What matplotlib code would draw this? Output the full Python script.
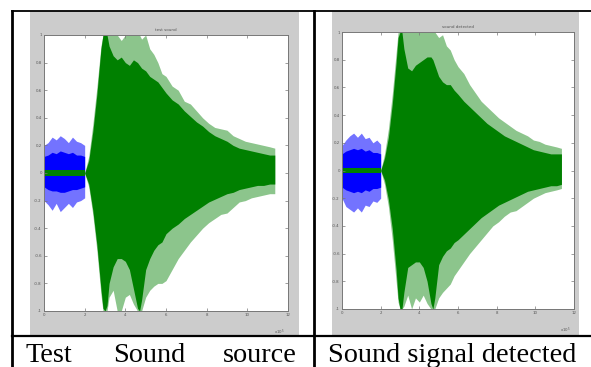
import numpy as np
import matplotlib.pyplot as plt
from matplotlib.lines import Line2D
from matplotlib.patches import Rectangle

# envelope of the two recordings (x in units of 1e5 samples)
t_green = [2.0, 2.2, 2.4, 2.6, 2.8, 2.9, 3.0, 3.1, 3.2, 3.4, 3.6, 3.8, 4.0, 4.2,
           4.4, 4.6, 4.7, 4.8, 5.0, 5.2, 5.4, 5.6, 5.8, 6.0, 6.3, 6.6, 6.9, 7.2,
           7.5, 7.8, 8.1, 8.4, 8.7, 9.0, 9.3, 9.6, 9.9, 10.2, 10.5, 10.8, 11.1, 11.35]

test_hi_out = [0.0, 0.12, 0.35, 0.62, 0.92, 1.0, 1.0, 1.0, 1.0, 1.0, 1.0, 0.96, 1.0, 1.0,
               1.0, 1.0, 1.0, 0.97, 1.0, 0.9, 0.86, 0.8, 0.72, 0.7, 0.63, 0.6, 0.52, 0.5,
               0.45, 0.4, 0.36, 0.33, 0.32, 0.31, 0.27, 0.25, 0.23, 0.22, 0.21, 0.2, 0.19, 0.18]
test_hi_in = [0.0, 0.09, 0.3, 0.57, 0.9, 1.0, 1.0, 1.0, 0.92, 0.85, 0.82, 0.84, 0.8, 0.78,
              0.82, 0.8, 0.78, 0.76, 0.74, 0.7, 0.68, 0.66, 0.62, 0.58, 0.53, 0.5, 0.45, 0.41,
              0.37, 0.34, 0.3, 0.27, 0.25, 0.23, 0.2, 0.18, 0.17, 0.16, 0.15, 0.14, 0.13, 0.13]
test_lo_in = [0.0, -0.08, -0.27, -0.52, -0.84, -0.98, -1.0, -0.96, -0.8, -0.68, -0.62, -0.62, -0.64, -0.7,
              -0.84, -0.98, -1.0, -0.92, -0.7, -0.62, -0.56, -0.52, -0.5, -0.44, -0.4, -0.37, -0.33, -0.3,
              -0.27, -0.24, -0.21, -0.19, -0.17, -0.15, -0.14, -0.12, -0.11, -0.1, -0.09, -0.09, -0.08, -0.08]
test_lo_out = [0.0, -0.1, -0.3, -0.56, -0.88, -1.0, -1.0, -1.0, -0.9, -0.85, -1.0, -1.0, -0.9, -0.88,
               -0.95, -1.0, -1.0, -1.0, -0.9, -0.85, -0.82, -0.8, -0.8, -0.78, -0.7, -0.62, -0.56, -0.5,
               -0.45, -0.4, -0.36, -0.33, -0.3, -0.29, -0.25, -0.21, -0.2, -0.18, -0.17, -0.16, -0.15, -0.15]

det_hi_out = [0.0, 0.12, 0.3, 0.55, 0.85, 1.0, 1.0, 1.0, 1.0, 1.0, 1.0, 1.0, 1.0, 1.0,
              1.0, 1.0, 1.0, 1.0, 0.96, 0.98, 0.9, 0.87, 0.8, 0.75, 0.7, 0.62, 0.56, 0.5,
              0.46, 0.42, 0.38, 0.35, 0.32, 0.29, 0.27, 0.25, 0.22, 0.21, 0.19, 0.18, 0.17, 0.16]
det_hi_in = [0.0, 0.09, 0.24, 0.48, 0.78, 0.96, 1.0, 1.0, 0.88, 0.74, 0.72, 0.76, 0.78, 0.8,
             0.82, 0.82, 0.8, 0.76, 0.68, 0.64, 0.62, 0.62, 0.58, 0.55, 0.5, 0.46, 0.42, 0.38,
             0.34, 0.31, 0.28, 0.25, 0.23, 0.21, 0.19, 0.17, 0.15, 0.14, 0.13, 0.12, 0.12, 0.12]
det_lo_in = [0.0, -0.07, -0.21, -0.42, -0.72, -0.92, -1.0, -1.0, -0.88, -0.7, -0.68, -0.66, -0.66, -0.7,
             -0.8, -0.96, -1.0, -0.92, -0.68, -0.62, -0.58, -0.56, -0.52, -0.5, -0.46, -0.42, -0.38, -0.34,
             -0.31, -0.28, -0.25, -0.23, -0.21, -0.19, -0.17, -0.15, -0.14, -0.13, -0.12, -0.11, -0.11, -0.1]
det_lo_out = [0.0, -0.1, -0.26, -0.5, -0.8, -0.95, -1.0, -1.0, -0.98, -0.9, -1.0, -0.92, -0.95, -0.9,
              -0.96, -1.0, -1.0, -1.0, -0.92, -0.88, -0.85, -0.82, -0.76, -0.72, -0.66, -0.6, -0.55, -0.5,
              -0.45, -0.4, -0.37, -0.33, -0.3, -0.29, -0.26, -0.23, -0.2, -0.18, -0.16, -0.15, -0.14, -0.13]

# background noise before the source starts
t_blue = [0.0, 0.2, 0.4, 0.6, 0.8, 1.0, 1.2, 1.4, 1.6, 1.8, 2.0]
test_blue_hi_out = [0.2, 0.22, 0.26, 0.24, 0.27, 0.25, 0.22, 0.26, 0.23, 0.22, 0.2]
test_blue_hi_in = [0.12, 0.13, 0.15, 0.14, 0.16, 0.15, 0.14, 0.15, 0.13, 0.13, 0.12]
test_blue_lo_in = [-0.1, -0.12, -0.13, -0.13, -0.14, -0.14, -0.13, -0.12, -0.12, -0.11, -0.1]
test_blue_lo_out = [-0.2, -0.23, -0.27, -0.22, -0.28, -0.25, -0.22, -0.25, -0.21, -0.2, -0.18]
det_blue_hi_out = [0.18, 0.22, 0.25, 0.27, 0.24, 0.27, 0.23, 0.24, 0.2, 0.22, 0.19]
det_blue_hi_in = [0.12, 0.14, 0.15, 0.16, 0.15, 0.16, 0.14, 0.15, 0.13, 0.13, 0.12]
det_blue_lo_in = [-0.12, -0.14, -0.15, -0.16, -0.15, -0.16, -0.14, -0.15, -0.13, -0.13, -0.12]
det_blue_lo_out = [-0.2, -0.26, -0.28, -0.3, -0.27, -0.3, -0.25, -0.26, -0.22, -0.23, -0.2]
t_floor = [0.0, 2.0]
floor_amp = 0.02

x_ticks = [0, 2, 4, 6, 8, 10, 12]
y_ticks = [-1, -0.8, -0.6, -0.4, -0.2, 0, 0.2, 0.4, 0.6, 0.8, 1]
y_ticklabels = ['-1', '-0.8', '-0.6', '-0.4', '-0.2', '0', '0.2', '0.4', '0.6', '0.8', '1']
titles = ['test sound', 'sound detected']
captions = ['Test', 'Sound', 'source', 'Sound signal detected']

GREEN = '#008000'
BLUE = '#0000ff'

fig = plt.figure(figsize=(5.91, 3.67), dpi=100)
fig.patch.set_facecolor('white')

# grey matlab figure windows
for x0, w in [(30 / 591, 269 / 591), (332 / 591, 247 / 591)]:
    fig.add_artist(Rectangle((x0, 32 / 367), w, 324 / 367, transform=fig.transFigure,
                             facecolor='#cccccc', edgecolor='none', zorder=-5))

axes_pos = [[44 / 591, 56 / 367, 244 / 591, 276 / 367],
            [342 / 591, 58 / 367, 232 / 591, 277 / 367]]
panels = [
    (test_hi_out, test_hi_in, test_lo_in, test_lo_out,
     test_blue_hi_out, test_blue_hi_in, test_blue_lo_in, test_blue_lo_out),
    (det_hi_out, det_hi_in, det_lo_in, det_lo_out,
     det_blue_hi_out, det_blue_hi_in, det_blue_lo_in, det_blue_lo_out),
]

for pos, title, data in zip(axes_pos, titles, panels):
    hi_out, hi_in, lo_in, lo_out, bhi_out, bhi_in, blo_in, blo_out = data
    ax = fig.add_axes(pos, zorder=2)
    ax.set_facecolor('white')
    ax.fill_between(t_blue, blo_out, bhi_out, color=BLUE, alpha=0.55, lw=0)
    ax.fill_between(t_blue, blo_in, bhi_in, color=BLUE, lw=0)
    ax.fill_between(t_floor, -floor_amp, floor_amp, color=GREEN, lw=0)
    ax.fill_between(t_green, lo_out, hi_out, color=GREEN, alpha=0.45, lw=0)
    ax.fill_between(t_green, lo_in, hi_in, color=GREEN, lw=0)
    ax.set_xlim(0, 12)
    ax.set_ylim(-1, 1)
    ax.set_xticks(x_ticks)
    ax.set_yticks(y_ticks)
    ax.set_yticklabels(y_ticklabels)
    ax.tick_params(direction='in', length=2.5, width=0.5, color='#777777',
                   labelsize=2.8, labelcolor='#555555', pad=1.5,
                   top=True, right=True)
    for s in ax.spines.values():
        s.set_color('#777777')
        s.set_linewidth(0.7)
    ax.set_title(title, fontsize=3, color='#555555', pad=3)
    ax.text(0.985, -0.06, r'x10$^5$', transform=ax.transAxes, fontsize=2.8,
            color='#555555', ha='right', va='top')

# table borders
lines = [([12 / 591, 1.0], [1 - 10.5 / 367, 1 - 10.5 / 367], 1.3),
         ([12 / 591, 12 / 591], [0.0, 1 - 10.5 / 367], 2.0),
         ([314 / 591, 314 / 591], [0.0, 1 - 10.5 / 367], 2.0),
         ([12 / 591, 1.0], [1 - 336 / 367, 1 - 336 / 367], 1.6)]
for xs, ys, lw in lines:
    fig.add_artist(Line2D(xs, ys, transform=fig.transFigure, color='black', lw=lw, zorder=5))

cap_y = 1 - 361.5 / 367
font = dict(family='Liberation Serif', fontsize=20.3, va='baseline', color='black')
fig.text(25 / 591, cap_y, captions[0], ha='left', **font)
fig.text(113 / 591, cap_y, captions[1], ha='left', **font)
fig.text(297 / 591, cap_y, captions[2], ha='right', **font)
fig.text(328 / 591, cap_y, captions[3], ha='left', **font)

fig.savefig('out.png', dpi=100)
